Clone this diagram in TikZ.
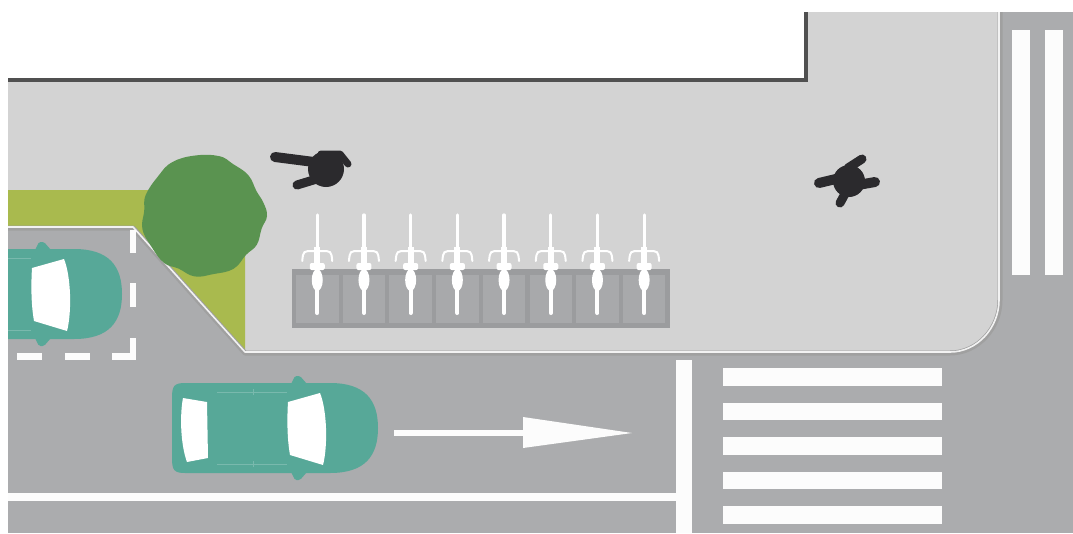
\documentclass[tikz,border=0pt]{standalone}
\usepackage{tikz}

\definecolor{pavement}{HTML}{D3D3D3}
\definecolor{asphalt}{HTML}{ABACAE}
\definecolor{verge}{HTML}{A9BA4E}
\definecolor{canopy}{HTML}{5A9350}
\definecolor{carbody}{HTML}{57A898}
\definecolor{walker}{HTML}{2B2A2D}
\definecolor{rackdark}{HTML}{9B9C9E}
\definecolor{rackcell}{HTML}{A8A9AB}
\definecolor{wall}{HTML}{505050}
\definecolor{kerb}{HTML}{A0A0A0}

\begin{document}
\begin{tikzpicture}[
			x=1pt, y=-1pt,
			marking/.style={
				fill=white!99!black
			},
			kerbline/.style={
				draw=kerb,
				line width=5pt,
				line join=round
			},
			kerbtop/.style={
				draw=white!70!pavement,
				line width=1.6pt,
				line join=round
			},
			limb/.style={
				draw=walker,
				line cap=round,
				line join=round
			},
			car/.pic={
				% body
				\fill[carbody] (-90,-45) -- (55,-45) .. controls (90,-45) and (103,-28) .. (103,0)
					.. controls (103,28) and (90,45) .. (55,45) -- (-90,45)
					.. controls (-101,45) and (-103,42) .. (-103,30) -- (-103,-30)
					.. controls (-103,-42) and (-101,-45) .. (-90,-45) -- cycle;
				% mirrors
				\fill[carbody, rounded corners=1.5pt] (16,-44) -- (20,-52) -- (25,-52) -- (32,-44) -- cycle;
				\fill[carbody, rounded corners=1.5pt] (16,44) -- (20,52) -- (25,52) -- (32,44) -- cycle;
				% roof lines
				\draw[carbody!80!white, line width=0.6pt] (-58,-36) -- (12,-36) (-58,36) -- (12,36)
					(-22,-39) -- (-22,-33) (-22,39) -- (-22,33);
				% windows
				\fill[white] (13,-26) -- (45,-35) .. controls (52,-18) and (53,18) .. (48,37)
					-- (15,27) .. controls (12,10) and (12,-10) .. (13,-26) -- cycle;
				\fill[white] (-92,-30) -- (-68,-26) -- (-67,30) -- (-88,34)
					.. controls (-95,15) and (-95,-15) .. (-92,-30) -- cycle;
			}
			]
			
			\useasboundingbox (0,0) rectangle (1073,533);
			\fill[white] (0,0) rectangle (1073,533);
			
			% Road and pavement
			\fill[asphalt] (8,12) rectangle (1073,533);
			\fill[pavement] (8,12) -- (1000,12) -- (1000,300) .. controls (1000,328) and (978,353) .. (950,353)
				-- (245,353) -- (133,228) -- (8,228) -- cycle;
			\fill[verge] (8,190) -- (245,190) -- (245,353) -- (133,228) -- (8,228) -- cycle;
			
			% Kerb
			\draw[kerbline] (8,228) -- (133,228) -- (245,353) -- (950,353)
				.. controls (978,353) and (1000,328) .. (1000,300) -- (1000,12);
			\draw[kerbtop] (8,227) -- (133,227) -- (245,352) -- (950,352)
				.. controls (977,352) and (999,328) .. (999,300) -- (999,12);
			
			% Building
			\fill[white] (8,12) rectangle (806,80);
			\draw[wall, line width=3.5pt] (8,80) -- (806,80) -- (806,12);
			
			% Tree
			\fill[canopy, shift={(203,216)}] plot[smooth cycle, tension=0.7] coordinates
				{(0:64) (12:60) (28:61) (42:58) (60:61) (80:59) (98:61) (115:58) (130:61) (150:60)
				 (168:62) (185:59) (200:61) (222:60) (240:62) (262:61) (285:62) (300:60) (318:61)
				 (335:59) (348:62)};
			
			% Bike rack
			\fill[rackdark] (292,269) rectangle (670,328);
			\foreach \i in {0,...,7} {
				\pgfmathsetmacro\cx{317.25+46.7*\i}
				\fill[rackcell] (\cx-21.25,275) rectangle (\cx+21.25,323);
			}
			\foreach \i in {0,...,7} {
				\pgfmathsetmacro\cx{317.25+46.7*\i}
				\draw[white, line width=3.3pt, line cap=round] (\cx,215) -- (\cx,250);
				\draw[white, line width=6pt] (\cx,247) -- (\cx,265);
				\fill[white, rounded corners=2pt] (\cx-7.5,263) rectangle (\cx+7.5,270);
				\draw[white, line width=2pt, line cap=round] (\cx-15,261) .. controls (\cx-14,251) .. (\cx-4,251)
					-- (\cx+4,251) .. controls (\cx+14,251) .. (\cx+15,261);
				\fill[white] (\cx,280) ellipse [x radius=5.5, y radius=11];
				\draw[white, line width=4pt, line cap=round] (\cx,290) -- (\cx,313);
			}
			
			% Pedestrians
			\fill[walker] (326,169) ellipse [x radius=18, y radius=18];
			\draw[limb, line width=10pt] (275,157) -- (314,162);
			\draw[limb, line width=7pt] (321,154) -- (340,154) -- (348,164);
			\draw[limb, line width=9pt] (297,185) -- (320,178);
			
			\fill[walker] (849,181) circle [radius=16];
			\draw[limb, line width=9pt] (848,168) -- (862,159);
			\draw[limb, line width=10pt] (819,183) -- (840,178);
			\draw[limb, line width=10pt] (858,185) -- (875,182);
			\draw[limb, line width=9pt] (846,192) -- (840,203);
			
			% Road markings
			\fill[marking] (1012,30) rectangle (1030,275);
			\fill[marking] (1045,30) rectangle (1063,275);
			\foreach \y in {368,402.5,437,471.5,506}
				\fill[marking] (723,\y) rectangle (942,\y+17.5);
			\fill[marking] (676,360) rectangle (692,533);
			\fill[marking] (8,493) rectangle (676,501);
			\fill[marking] (394,430) rectangle (524,436);
			\fill[marking] (523,417) -- (632,433) -- (523,448) -- cycle;
			
			% Parking bay
			\foreach \a/\b in {230/253,283/307,338/360}
				\fill[marking] (130,\a) rectangle (136,\b);
			\foreach \a/\b in {17/42,65/90,112/136}
				\fill[marking] (\a,353) rectangle (\b,360);
			
			% Cars
			\coordinate (movingcar) at (275,428);
			\coordinate (parkedcar) at (19,294);
			\pic at (movingcar) {car};
			\begin{scope}
				\clip (8,12) rectangle (1073,533);
				\pic at (parkedcar) {car};
			\end{scope}
			
		\end{tikzpicture}
\end{document}
